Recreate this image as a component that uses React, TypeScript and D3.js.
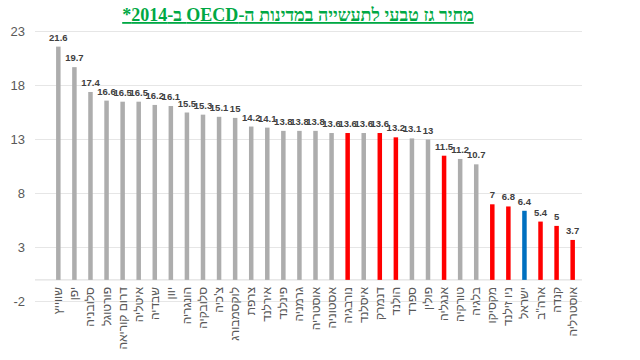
import React from 'react';
import * as d3 from 'd3';

const countries = [
  'שווייץ', 'יפן', 'סלובניה', 'פורטוגל', 'דרום קוריאה', 'איטליה', 'שבדיה', 'יוון',
  'הונגריה', 'סלובקיה', "צ'כיה", 'לוקסמבורג', 'צרפת', 'אירלנד', 'פינלנד', 'גרמניה',
  'אוסטריה', 'אסטוניה', 'נורבגיה', 'איסלנד', 'דנמרק', 'הולנד', 'ספרד', 'פולין',
  'אנגליה', 'טורקיה', 'בלגיה', 'מקסיקו', 'ניו זילנד', 'ישראל', 'ארה"ב', 'קנדה', 'אוסטרליה',
];
const prices = [
  21.6, 19.7, 17.4, 16.6, 16.5, 16.5, 16.2, 16.1, 15.5, 15.3, 15.1, 15, 14.2, 14.1, 13.8, 13.8,
  13.8, 13.6, 13.6, 13.6, 13.6, 13.2, 13.1, 13, 11.5, 11.2, 10.7, 7, 6.8, 6.4, 5.4, 5, 3.7,
];
// g = gray, r = red, b = blue
const groups = [
  'g', 'g', 'g', 'g', 'g', 'g', 'g', 'g', 'g', 'g', 'g', 'g', 'g', 'g', 'g', 'g',
  'g', 'g', 'r', 'g', 'r', 'r', 'g', 'g', 'r', 'g', 'g', 'r', 'r', 'b', 'r', 'r', 'r',
];
const yTicks = [-2, 3, 8, 13, 18, 23];
const title = 'מחיר גז טבעי לתעשייה במדינות ה-OECD ב-2014*';

const colors = { g: '#adadad', r: '#ff0000', b: '#0070c0' };

export default function App() {
  const width = 640;
  const height = 360;

  const x = d3.scaleBand().domain(countries).range([50.3, 580.7]);
  const y = d3.scaleLinear().domain([-2, 23]).range([301.5, 31.5]);
  const barW = 4.5;
  const cx = (c) => x(c) + x.bandwidth() / 2;

  return (
    <svg width={width} height={height} style={{ position: 'absolute', left: 0, top: 0, background: '#fff' }}>
      <text x={298} y={21} textAnchor="middle" direction="rtl" style={{ unicodeBidi: 'embed' }}
        fill="#00a844" fontFamily="Liberation Serif" fontWeight="bold" fontSize={18} textDecoration="underline">
        {title}
      </text>
      {yTicks.map(t => (
        <g key={t}>
          <line x1={35} x2={582} y1={y(t)} y2={y(t)} stroke="#e6e6e6" strokeWidth={1} />
          <text x={25} y={y(t) + 4.5} textAnchor="end" fill="#595959" fontFamily="Liberation Sans" fontSize={13}>{t}</text>
        </g>
      ))}
      <line x1={35} x2={582} y1={y(0)} y2={y(0)} stroke="#d9d9d9" strokeWidth={1} />
      {countries.map((c, i) => (
        <g key={c}>
          <rect x={cx(c) - barW / 2} y={y(prices[i])} width={barW} height={y(0) - y(prices[i])} fill={colors[groups[i]]} />
          <text x={cx(c)} y={y(prices[i]) - 6} textAnchor="middle" fill="#404040" fontFamily="Liberation Sans" fontWeight="bold" fontSize={9.5}>
            {prices[i]}
          </text>
          <text transform={`translate(${cx(c) + 4},287) rotate(-90)`} textAnchor="end" fill="#595959" fontFamily="Liberation Sans" fontSize={12}>
            {c}
          </text>
        </g>
      ))}
    </svg>
  );
}
